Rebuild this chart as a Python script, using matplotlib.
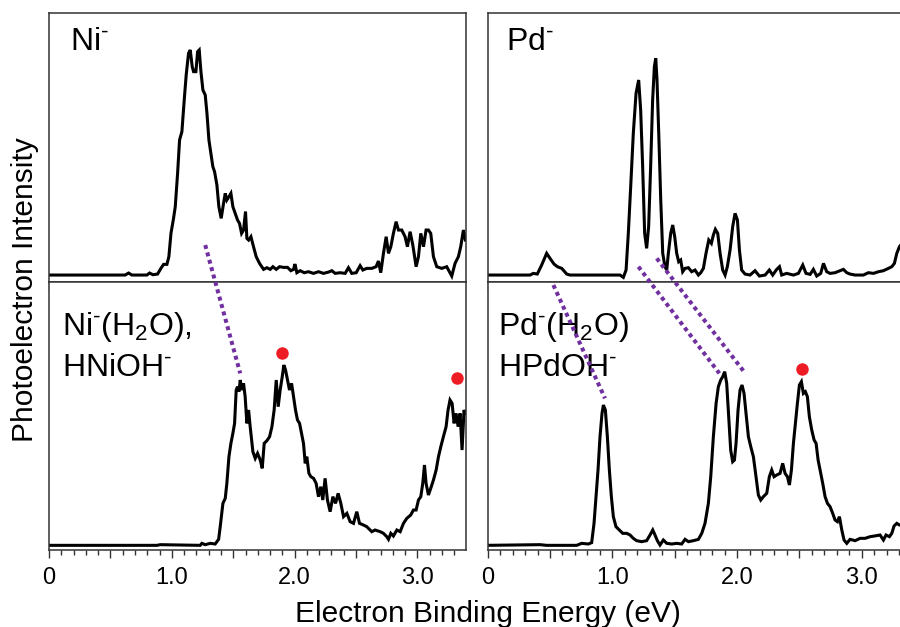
import matplotlib.pyplot as plt
from matplotlib.lines import Line2D
from matplotlib.ticker import FixedLocator, FixedFormatter, MultipleLocator

plt.rcParams['font.family'] = ['Liberation Sans', 'DejaVu Sans']
plt.rcParams['mathtext.fontset'] = 'custom'
plt.rcParams['mathtext.rm'] = 'Liberation Sans'
plt.rcParams['mathtext.it'] = 'Liberation Sans:italic'
plt.rcParams['mathtext.bf'] = 'Liberation Sans:bold'
plt.rcParams['mathtext.default'] = 'regular'

# Ni- spectrum (top left), binding energy in eV / intensity in arb. units
ni_ev = [0.00, 0.62, 0.648, 0.675, 0.797, 0.819, 0.846, 0.884, 0.911, 0.933, 0.960, 0.976,
         0.993, 1.014, 1.028, 1.047, 1.063, 1.082, 1.101, 1.117, 1.136, 1.150, 1.166, 1.177,
         1.196, 1.210, 1.223, 1.237, 1.253, 1.272, 1.286, 1.302, 1.318, 1.334, 1.348, 1.367,
         1.383, 1.402, 1.421, 1.435, 1.448, 1.465, 1.481, 1.497, 1.516, 1.535, 1.551, 1.568,
         1.584, 1.600, 1.611, 1.625, 1.644, 1.665, 1.687, 1.714, 1.747, 1.774, 1.801, 1.823,
         1.850, 1.877, 1.909, 1.942, 1.969, 1.991, 2.002, 2.018, 2.045, 2.078, 2.113, 2.153,
         2.194, 2.235, 2.276, 2.303, 2.330, 2.370, 2.411, 2.438, 2.465, 2.501, 2.533, 2.555,
         2.587, 2.628, 2.663, 2.682, 2.701, 2.723, 2.745, 2.764, 2.783, 2.804, 2.826, 2.845,
         2.872, 2.899, 2.918, 2.940, 2.962, 2.989, 3.008, 3.027, 3.049, 3.070, 3.089, 3.108,
         3.130, 3.157, 3.198, 3.238, 3.279, 3.306, 3.333, 3.352, 3.374, 3.390]
ni_int = [0, 0, 6, 0, 0, 6, 1, 3, 20, 32, 32, 55,
          125, 170, 205, 305, 405, 430, 525, 600, 665, 675, 625, 610,
          610, 670, 675, 610, 555, 540, 485, 405, 365, 325, 310, 270,
          205, 170, 215, 245, 225, 235, 245, 205, 185, 165, 155, 125,
          135, 190, 110, 105, 115, 85, 55, 35, 17, 22, 17, 25,
          17, 25, 23, 23, 13, 17, 33, 7, 13, 7, 10, 5,
          10, 5, 9, 13, 5, 7, 5, 22, 5, 7, 28, 15,
          20, 20, 25, 42, 7, 65, 115, 65, 85, 125, 160, 135,
          135, 115, 85, 130, 90, 25, 55, 125, 85, 135, 135, 125,
          55, 25, 20, 25, -3, 35, 55, 85, 135, 105]

# Ni-(H2O) / HNiOH- spectrum (bottom left)
niw_ev = [0.00, 0.879, 0.906, 1.231, 1.245, 1.272, 1.313, 1.353, 1.381, 1.394, 1.416, 1.435,
          1.448, 1.465, 1.481, 1.497, 1.511, 1.524, 1.535, 1.546, 1.557, 1.570, 1.584, 1.597,
          1.611, 1.625, 1.638, 1.660, 1.679, 1.698, 1.720, 1.736, 1.752, 1.774, 1.796, 1.815,
          1.833, 1.850, 1.866, 1.882, 1.899, 1.912, 1.926, 1.942, 1.958, 1.975, 1.991, 2.007,
          2.023, 2.040, 2.056, 2.072, 2.086, 2.099, 2.116, 2.132, 2.154, 2.175, 2.194, 2.213,
          2.229, 2.248, 2.267, 2.289, 2.311, 2.333, 2.354, 2.376, 2.398, 2.425, 2.452, 2.479,
          2.506, 2.528, 2.560, 2.587, 2.628, 2.655, 2.696, 2.723, 2.750, 2.764, 2.783, 2.804,
          2.832, 2.859, 2.886, 2.913, 2.945, 2.967, 2.989, 3.008, 3.027, 3.043, 3.057, 3.070,
          3.089, 3.108, 3.130, 3.152, 3.171, 3.190, 3.211, 3.233, 3.249, 3.265, 3.282, 3.298,
          3.314, 3.331, 3.347, 3.363, 3.379, 3.390]
niw_int = [0, 0, 2, 0, 6, 2, 6, 4, 18, 56, 126, 141,
           186, 266, 306, 336, 366, 466, 476, 461, 496, 466, 486, 446,
           366, 406, 356, 281, 261, 276, 256, 231, 306, 314, 326, 356,
           406, 496, 416, 466, 506, 541, 526, 496, 466, 486, 446, 406,
           376, 366, 336, 306, 246, 266, 216, 206, 201, 186, 146, 176,
           136, 201, 136, 101, 146, 126, 156, 126, 86, 96, 71, 66,
           101, 66, 61, 56, 41, 46, 41, 36, 26, 18, 36, 28,
           46, 41, 66, 81, 91, 106, 106, 136, 146, 186, 241, 186,
           151, 171, 196, 226, 266, 296, 326, 356, 406, 436, 426, 366,
           396, 356, 396, 286, 406, 396]

# Pd- spectrum (top right)
pd_ev = [0.00, 0.340, 0.366, 0.398, 0.433, 0.473, 0.500, 0.532, 0.559, 0.594, 0.634, 0.660,
         1.061, 1.088, 1.110, 1.128, 1.147, 1.168, 1.190, 1.211, 1.227, 1.243, 1.259, 1.275,
         1.291, 1.307, 1.323, 1.337, 1.348, 1.358, 1.372, 1.388, 1.404, 1.422, 1.436, 1.449,
         1.468, 1.484, 1.500, 1.516, 1.532, 1.548, 1.564, 1.583, 1.610, 1.636, 1.663, 1.690,
         1.709, 1.730, 1.751, 1.773, 1.794, 1.810, 1.826, 1.845, 1.864, 1.885, 1.904, 1.922,
         1.944, 1.965, 1.984, 2.003, 2.019, 2.037, 2.064, 2.104, 2.144, 2.179, 2.225, 2.259,
         2.286, 2.318, 2.340, 2.358, 2.398, 2.452, 2.492, 2.527, 2.553, 2.586, 2.612, 2.639,
         2.671, 2.693, 2.719, 2.746, 2.786, 2.826, 2.853, 2.880, 2.906, 2.947, 3.013, 3.053,
         3.094, 3.134, 3.174, 3.214, 3.241, 3.262, 3.281, 3.302, 3.313, 3.330]
pd_int = [0, 0, 5, 3, 30, 65, 50, 33, 25, 20, 3, 0,
          0, -7, 15, 125, 265, 425, 545, 585, 495, 325, 125, 80,
          145, 325, 525, 625, 650, 585, 425, 225, 65, 25, 15, 65,
          125, 150, 115, 65, 40, 45, 10, 20, 22, 10, 15, 0,
          7, 20, 65, 105, 95, 120, 137, 125, 65, 15, 0, 25,
          75, 145, 185, 165, 75, 15, 3, 0, 13, -3, 0, 15,
          0, 17, 25, 0, 5, 0, 5, 30, 5, 2, 17, -3,
          5, 35, 10, 5, 7, 13, 17, 7, 3, 0, 0, 7,
          5, 10, 13, 20, 25, 35, 65, 85, 90, 95]

# Pd-(H2O) / HPdOH- spectrum (bottom right)
pdw_ev = [0.00, 0.420, 0.473, 0.714, 0.754, 0.807, 0.834, 0.853, 0.869, 0.885, 0.901, 0.917,
          0.928, 0.944, 0.960, 0.976, 0.992, 1.008, 1.029, 1.056, 1.083, 1.115, 1.142, 1.168,
          1.195, 1.235, 1.275, 1.302, 1.324, 1.342, 1.361, 1.382, 1.409, 1.436, 1.476, 1.516,
          1.556, 1.583, 1.610, 1.650, 1.690, 1.717, 1.743, 1.770, 1.789, 1.810, 1.832, 1.850,
          1.869, 1.885, 1.901, 1.917, 1.933, 1.949, 1.965, 1.979, 1.992, 2.008, 2.024, 2.040,
          2.056, 2.072, 2.091, 2.110, 2.131, 2.152, 2.171, 2.190, 2.211, 2.238, 2.259, 2.278,
          2.297, 2.318, 2.345, 2.366, 2.385, 2.404, 2.420, 2.436, 2.452, 2.468, 2.484, 2.500,
          2.516, 2.532, 2.548, 2.564, 2.580, 2.599, 2.618, 2.634, 2.650, 2.666, 2.687, 2.706,
          2.725, 2.746, 2.767, 2.786, 2.805, 2.821, 2.840, 2.858, 2.880, 2.906, 2.947, 2.987,
          3.027, 3.067, 3.102, 3.147, 3.174, 3.195, 3.222, 3.241, 3.259, 3.281, 3.302, 3.330]
pdw_int = [0, 2, 0, 0, 6, 4, 8, 66, 146, 226, 326, 396,
           421, 406, 326, 226, 146, 86, 56, 46, 36, 36, 31, 21,
           14, 11, 14, 31, 46, 31, 14, 1, 16, 6, 4, 6,
           4, 18, 11, 14, 18, 36, 66, 126, 206, 326, 426, 476,
           496, 506, 521, 486, 386, 286, 251, 256, 306, 406, 466, 481,
           456, 396, 326, 296, 266, 206, 151, 136, 146, 156, 206, 226,
           206, 211, 216, 246, 216, 206, 181, 226, 306, 366, 426, 481,
           491, 456, 461, 446, 386, 346, 316, 306, 256, 226, 186, 146,
           126, 116, 96, 76, 71, 86, 46, 16, 6, 18, 14, 21,
           21, 26, 28, 31, 16, 31, 26, 36, 58, 66, 61, 60]

# panel labels, one list entry per text line
panel_labels = [[r"Ni$^{\text{-}}$"],
                [r"Pd$^{\text{-}}$"],
                [r"Ni$^{\text{-}}$(H$_2$O),", r"HNiOH$^{\text{-}}$"],
                [r"Pd$^{\text{-}}$(H$_2$O)", r"HPdOH$^{\text{-}}$"]]

# red markers on the bottom spectra
ni_dot_ev, ni_dot_int = [1.90, 3.32], [578, 503]
pd_dot_ev, pd_dot_int = [2.52], [529]

purple = '#7030a0'
red = '#ee1c25'

fig = plt.figure(figsize=(9, 6.27), dpi=100)
top_b, top_h = 0.5507, 0.4281
bot_b, bot_h = 0.1228, 0.4279
ax_nt = fig.add_axes([0.05444, top_b, 0.46333, top_h])
ax_nb = fig.add_axes([0.05444, bot_b, 0.46333, bot_h])
ax_pt = fig.add_axes([0.54185, top_b, 0.4615, top_h])
ax_pb = fig.add_axes([0.54185, bot_b, 0.4615, bot_h])

for ax, xs, ys in ((ax_nt, ni_ev, ni_int), (ax_nb, niw_ev, niw_int),
                   (ax_pt, pd_ev, pd_int), (ax_pb, pdw_ev, pdw_int)):
    ax.plot(xs, ys, color='black', lw=2.2, solid_joinstyle='miter')

ax_nb.plot(ni_dot_ev, ni_dot_int, 'o', color=red, ms=9, mec='none')
ax_pb.plot(pd_dot_ev, pd_dot_int, 'o', color=red, ms=9, mec='none')

for ax in (ax_nt, ax_nb):
    ax.set_xlim(0, 3.395)
for ax in (ax_pt, ax_pb):
    ax.set_xlim(0, 3.331)
for ax in (ax_nt, ax_pt):
    ax.set_ylim(-20, 785)
for ax in (ax_nb, ax_pb):
    ax.set_ylim(-14, 791)

label_x = [0.050, 0.044, 0.031, 0.025]
label_y = [[0.863], [0.863], [0.801, 0.6485], [0.801, 0.6485]]
for ax, lines, lx, lys in zip((ax_nt, ax_pt, ax_nb, ax_pb), panel_labels, label_x, label_y):
    ax.set_yticks([])
    ax.xaxis.set_major_locator(FixedLocator([0, 0.5, 1.0, 1.5, 2.0, 2.5, 3.0]))
    ax.xaxis.set_minor_locator(MultipleLocator(0.1))
    ax.tick_params(axis='x', which='major', direction='out', length=6, width=1, color='#333333',
                   labelsize=17, pad=6)
    ax.tick_params(axis='x', which='minor', direction='out', length=3.5, width=1, color='#333333')
    for s in ax.spines.values():
        s.set_linewidth(1.1)
        s.set_color('#333333')
    for line, ly in zip(lines, lys):
        ax.text(lx, ly, line, transform=ax.transAxes, fontsize=23, va='baseline', ha='left')

for ax in (ax_nt, ax_pt):
    ax.xaxis.set_major_formatter(FixedFormatter([''] * 7))
for ax in (ax_nb, ax_pb):
    ax.xaxis.set_major_formatter(FixedFormatter(['0', '', '1.0', '', '2.0', '', '3.0']))

# purple dotted guide lines linking peaks across panels
guides = [
    (ax_nt, (1.272, 90), ax_nb, (1.557, 516)),
    (ax_pb, (0.527, 781), ax_pb, (0.941, 441)),
    (ax_pt, (1.209, 25), ax_pb, (1.858, 516)),
    (ax_pt, (1.356, 50), ax_pb, (2.056, 521)),
]
to_fig = fig.transFigure.inverted()
for axa, pa, axb, pb in guides:
    fa = to_fig.transform(axa.transData.transform(pa))
    fb = to_fig.transform(axb.transData.transform(pb))
    fig.add_artist(Line2D([fa[0], fb[0]], [fa[1], fb[1]], transform=fig.transFigure,
                          color=purple, lw=2.9, linestyle=(0, (1, 0.9)), zorder=5))

fig.text(25 / 900, 1 - 290 / 627, 'Photoelectron Intensity', rotation=90, fontsize=21.5,
         ha='center', va='center')
fig.text(488 / 900, 1 - 622 / 627, 'Electron Binding Energy (eV)', fontsize=21.5,
         ha='center', va='baseline')

fig.savefig('out.png', dpi=100)
